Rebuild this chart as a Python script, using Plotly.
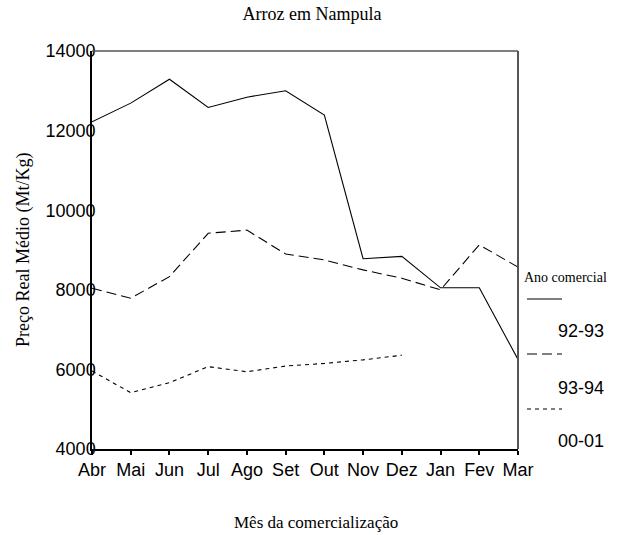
import plotly.graph_objects as go

months = ["Abr", "Mai", "Jun", "Jul", "Ago", "Set", "Out", "Nov", "Dez", "Jan", "Fev", "Mar"]
s_92_93 = [12220, 12690, 13290, 12580, 12840, 13000, 12390, 8780, 8840, 8050, 8050, 6250]
s_93_94 = [8040, 7790, 8330, 9420, 9500, 8900, 8750, 8500, 8290, 8000, 9130, 8570]
s_00_01 = [5960, 5415, 5665, 6070, 5940, 6085, 6150, 6240, 6355]
series_names = ["92-93", "93-94", "00-01"]
y_ticks = [4000, 6000, 8000, 10000, 12000, 14000]

SERIF = "Liberation Serif"
SANS = "Liberation Sans"

fig = go.Figure()
xs = list(range(len(months)))
dashes = ["solid", "10px,5px", "4px,4px"]
for name, vals, d in zip(series_names, [s_92_93, s_93_94, s_00_01], dashes):
    fig.add_trace(go.Scatter(x=xs[:len(vals)], y=vals, mode="lines", name=name,
                             line=dict(color="black", width=1.1, dash=d),
                             showlegend=False, hoverinfo="skip"))

L, R, T, B = 92, 106, 51, 86
W, H = 624, 535
pw = W - L - R
ph = H - T - B

def px(x):
    return (x - L) / pw

def py(y):
    return (H - B - y) / ph

fig.update_layout(
    width=W, height=H,
    margin=dict(l=L, r=R, t=T, b=B),
    paper_bgcolor="white", plot_bgcolor="white",
    title=dict(text="Arroz em Nampula", x=0.5, xref="container", y=1 - 14 / H, yref="container",
               xanchor="center", yanchor="middle", font=dict(family=SERIF, size=18, color="black")),
    xaxis=dict(range=[0, 11], tickmode="array", tickvals=xs, ticktext=months,
               showgrid=False, zeroline=False, showline=True, linecolor="black", linewidth=1.5,
               ticks="outside", ticklen=4, tickwidth=2, tickcolor="black",
               tickfont=dict(family=SANS, size=18, color="black")),
    yaxis=dict(range=[4000, 14000], tickmode="array", tickvals=y_ticks,
               ticktext=[str(v) for v in y_ticks],
               showgrid=False, zeroline=False, showline=True, linecolor="black", linewidth=1.5,
               ticks="", ticklabelstandoff=-9,
               tickfont=dict(family=SANS, size=18, color="black")),
)

# grey frame on top and right
fig.add_shape(type="line", xref="paper", yref="paper", x0=0, x1=1, y0=1, y1=1,
              line=dict(color="#555555", width=1.5))
fig.add_shape(type="line", xref="paper", yref="paper", x0=1, x1=1, y0=0, y1=1,
              line=dict(color="#555555", width=2))

# axis titles
fig.add_annotation(text="Mês da comercialização", xref="paper", yref="paper",
                   x=px(316), y=py(522), showarrow=False, xanchor="center", yanchor="middle",
                   font=dict(family=SERIF, size=17, color="black"))
fig.add_annotation(text="Preço Real Médio (Mt/Kg)", xref="paper", yref="paper",
                   x=px(23), y=py(250), showarrow=False, xanchor="center", yanchor="middle",
                   textangle=-90, font=dict(family=SERIF, size=18, color="black"))

# custom legend
fig.add_annotation(text="Ano comercial", xref="paper", yref="paper",
                   x=px(522), y=py(277), showarrow=False, xanchor="left", yanchor="middle",
                   font=dict(family=SERIF, size=14, color="black"))
sample_y = [299, 354, 409]
label_y = [331, 388, 441]
for name, d, sy, ly in zip(series_names, dashes, sample_y, label_y):
    fig.add_shape(type="line", xref="paper", yref="paper", x0=px(527), x1=px(562),
                  y0=py(sy), y1=py(sy), line=dict(color="black", width=1.1, dash=d))
    fig.add_annotation(text=name, xref="paper", yref="paper", x=px(581), y=py(ly),
                       showarrow=False, xanchor="center", yanchor="middle",
                       font=dict(family=SANS, size=18, color="black"))

fig.write_html("out.html", config={"displayModeBar": False},
               post_script="document.body.style.margin='0px';")
